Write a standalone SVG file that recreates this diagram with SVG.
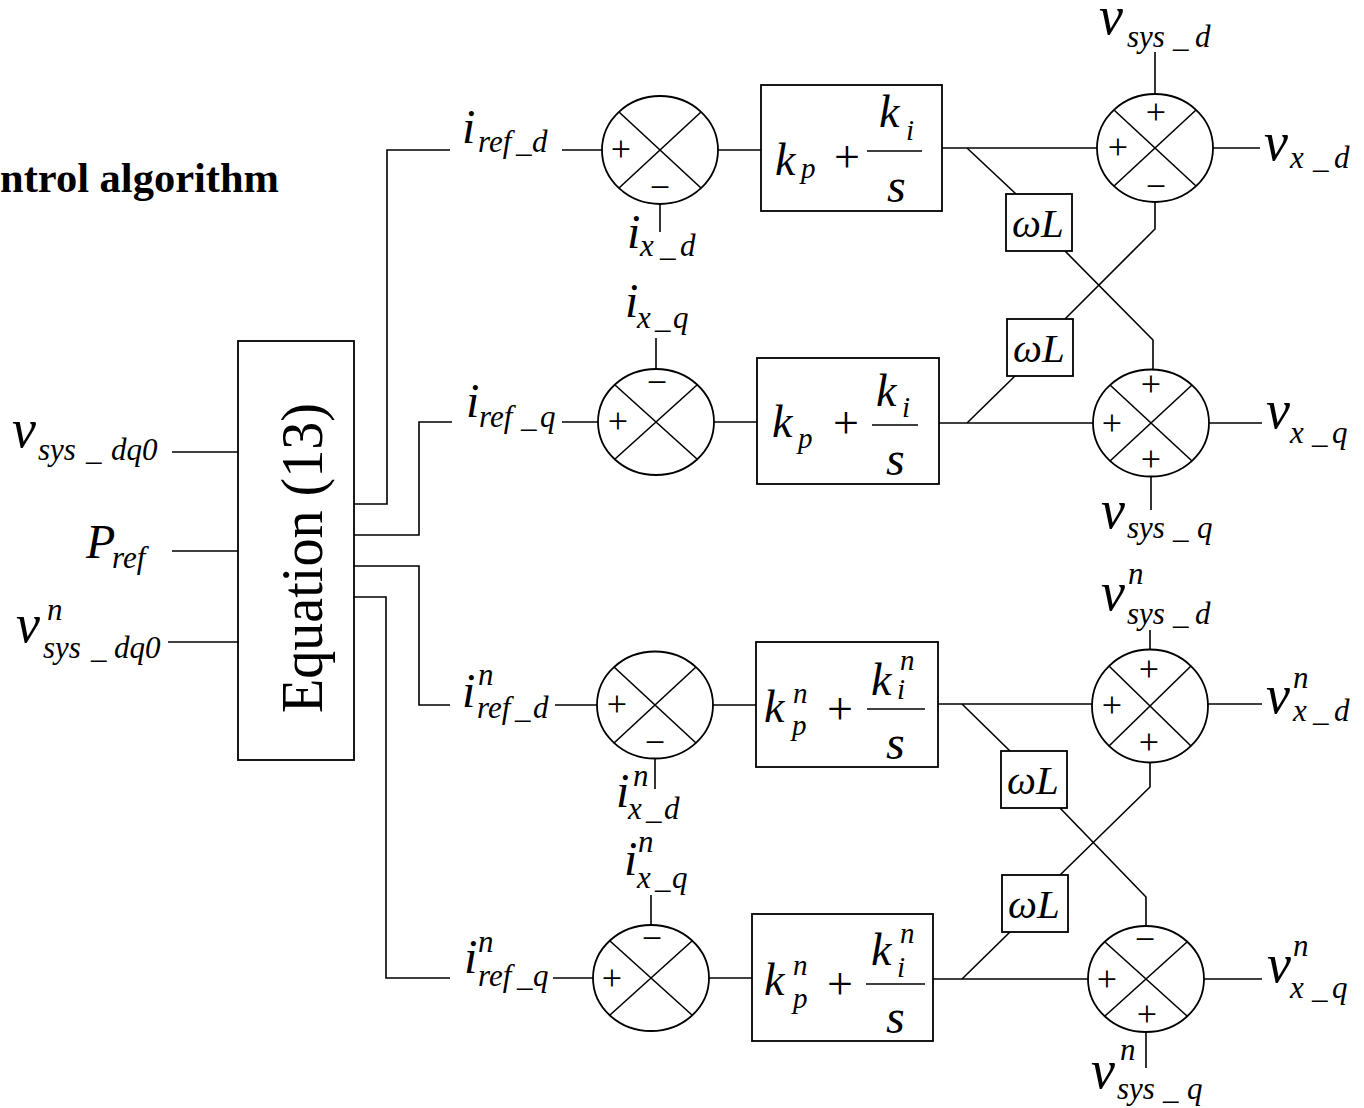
<svg xmlns="http://www.w3.org/2000/svg" width="1364" height="1108" viewBox="0 0 1364 1108">
<style>
.ln{stroke:#000;stroke-width:1.6;fill:none}
.bx{stroke:#000;stroke-width:1.8;fill:#fff}
.el{stroke:#000;stroke-width:1.8;fill:none}
.mi{font-family:"Liberation Serif","Times New Roman",serif;font-style:italic;font-size:31px;fill:#000}
.rm{font-family:"Liberation Serif","Times New Roman",serif;fill:#000}
.sg{font-family:"Liberation Serif","Times New Roman",serif;font-size:36px;text-anchor:middle;fill:#000}
.pl{font-family:"Liberation Serif","Times New Roman",serif;font-size:46px;text-anchor:middle;fill:#000}
.V{font-size:54px}
.I{font-size:48px}
.K{font-size:46px}
.S{font-size:48px}
.W{font-size:41px}
.s{font-size:29px}
</style>
<rect width="1364" height="1108" fill="#fff"/>

<text id="title" class="rm" x="0" y="192" font-size="43" font-weight="bold" textLength="279" lengthAdjust="spacingAndGlyphs">ntrol algorithm</text>

<g id="connectors">
  <line class="ln" x1="172" y1="452" x2="238" y2="452"/>
  <line class="ln" x1="172" y1="551" x2="238" y2="551"/>
  <line class="ln" x1="168" y1="642" x2="238" y2="642"/>
  <polyline class="ln" points="354,504 387,504 387,150 450,150"/>
  <polyline class="ln" points="354,535 419,535 419,422 452,422"/>
  <polyline class="ln" points="354,566 419,566 419,705 450,705"/>
  <polyline class="ln" points="354,597 386,597 386,978 450,978"/>
  <line class="ln" x1="562" y1="150" x2="602" y2="150"/>
  <line class="ln" x1="660" y1="204" x2="660" y2="232"/>
  <line class="ln" x1="718" y1="150" x2="761" y2="150"/>
  <line class="ln" x1="942" y1="148" x2="1097" y2="148"/>
  <line class="ln" x1="1155" y1="52" x2="1155" y2="94"/>
  <line class="ln" x1="1213" y1="148" x2="1260" y2="148"/>
  <line class="ln" x1="967" y1="148" x2="1016" y2="194"/>
  <polyline class="ln" points="1065,251 1153,340 1153,369"/>
  <polyline class="ln" points="1155,202 1155,229 1065,319"/>
  <line class="ln" x1="562" y1="422" x2="598" y2="422"/>
  <line class="ln" x1="656" y1="338" x2="656" y2="369"/>
  <line class="ln" x1="714" y1="422" x2="757" y2="422"/>
  <line class="ln" x1="939" y1="423" x2="1093" y2="423"/>
  <line class="ln" x1="1151" y1="476" x2="1151" y2="510"/>
  <line class="ln" x1="1209" y1="423" x2="1262" y2="423"/>
  <line class="ln" x1="967" y1="423" x2="1015" y2="376"/>
  <line class="ln" x1="555" y1="705" x2="597" y2="705"/>
  <line class="ln" x1="655" y1="759" x2="655" y2="789"/>
  <line class="ln" x1="713" y1="705" x2="756" y2="705"/>
  <line class="ln" x1="938" y1="704" x2="1092" y2="704"/>
  <line class="ln" x1="1150" y1="630" x2="1150" y2="650"/>
  <line class="ln" x1="1208" y1="704" x2="1262" y2="704"/>
  <line class="ln" x1="962" y1="704" x2="1010" y2="751"/>
  <polyline class="ln" points="1060,808 1146,897 1146,926"/>
  <polyline class="ln" points="1150,763 1150,787 1060,875"/>
  <line class="ln" x1="553" y1="978" x2="593" y2="978"/>
  <line class="ln" x1="651" y1="895" x2="651" y2="925"/>
  <line class="ln" x1="709" y1="978" x2="752" y2="978"/>
  <line class="ln" x1="933" y1="979" x2="1088" y2="979"/>
  <line class="ln" x1="1146" y1="1032" x2="1146" y2="1068"/>
  <line class="ln" x1="1204" y1="979" x2="1262" y2="979"/>
  <line class="ln" x1="962" y1="979" x2="1010" y2="932"/>
</g>

<g id="equation">
  <rect class="bx" x="238" y="341" width="116" height="419"/>
  <text class="rm" transform="translate(322,558) rotate(-90)" text-anchor="middle" font-size="60" textLength="310" lengthAdjust="spacingAndGlyphs">Equation (13)</text>
</g>

<text id="lbl-vsys-dq0" class="mi"><tspan class="V" x="12" y="447">v</tspan><tspan x="38" y="460">sys</tspan><tspan x="86">_</tspan><tspan x="111">dq0</tspan></text>
<text id="lbl-pref" class="mi"><tspan class="I" x="86" y="558">P</tspan><tspan x="112" y="568">ref</tspan></text>
<text id="lbl-vnsys-dq0" class="mi"><tspan class="V" x="16" y="642">v</tspan><tspan x="47" y="620">n</tspan><tspan x="43" y="658">sys</tspan><tspan x="91">_</tspan><tspan x="114">dq0</tspan></text>

<!-- Row 1 -->
<text id="lbl-iref-d" class="mi"><tspan class="I" x="462" y="143">i</tspan><tspan x="478" y="152">ref</tspan><tspan x="516">_</tspan><tspan x="532">d</tspan></text>
<g id="sum1">
  <ellipse class="el" cx="660" cy="150" rx="58" ry="54"/>
  <line class="ln" x1="619" y1="112" x2="701" y2="188"/>
  <line class="ln" x1="619" y1="188" x2="701" y2="112"/>
  <text class="sg" x="621" y="161">+</text>
  <text class="sg" x="660" y="199">−</text>
</g>
<text id="lbl-ix-d" class="mi"><tspan class="I" x="627" y="248">i</tspan><tspan x="640" y="256">x</tspan><tspan x="660">_</tspan><tspan x="680">d</tspan></text>
<g id="pi1">
  <rect class="bx" x="761" y="85" width="181" height="126"/>
  <text class="mi"><tspan class="K" x="775" y="175">k</tspan><tspan class="s" x="801" y="178">p</tspan></text>
  <text class="pl" x="847" y="172">+</text>
  <line class="ln" x1="867" y1="151" x2="922" y2="151" stroke-width="2.2"/>
  <text class="mi"><tspan class="K" x="879" y="127">k</tspan><tspan class="s" x="906" y="140">i</tspan></text>
  <text class="mi S" x="887" y="202">s</text>
</g>
<g id="wl1">
  <rect class="bx" x="1006" y="194" width="66" height="57"/>
  <text class="mi W" x="1012" y="237">ωL</text>
</g>
<g id="sum2">
  <ellipse class="el" cx="1155" cy="148" rx="58" ry="54"/>
  <line class="ln" x1="1114" y1="110" x2="1196" y2="186"/>
  <line class="ln" x1="1114" y1="186" x2="1196" y2="110"/>
  <text class="sg" x="1156" y="124">+</text>
  <text class="sg" x="1118" y="159">+</text>
  <text class="sg" x="1156" y="198">−</text>
</g>
<text id="lbl-vsys-d" class="mi"><tspan class="V" x="1099" y="34">v</tspan><tspan x="1127" y="47">sys</tspan><tspan x="1173">_</tspan><tspan x="1195">d</tspan></text>
<text id="lbl-vx-d" class="mi"><tspan class="V" x="1264" y="160">v</tspan><tspan x="1290" y="168">x</tspan><tspan x="1313">_</tspan><tspan x="1334">d</tspan></text>

<!-- Row 2 -->
<text id="lbl-iref-q" class="mi"><tspan class="I" x="466" y="417">i</tspan><tspan x="479" y="427">ref</tspan><tspan x="521">_</tspan><tspan x="540">q</tspan></text>
<text id="lbl-ix-q" class="mi"><tspan class="I" x="625" y="317">i</tspan><tspan x="637" y="328">x</tspan><tspan x="655">_</tspan><tspan x="673">q</tspan></text>
<g id="sum3">
  <ellipse class="el" cx="656" cy="422" rx="58" ry="53"/>
  <line class="ln" x1="615" y1="385" x2="697" y2="459"/>
  <line class="ln" x1="615" y1="459" x2="697" y2="385"/>
  <text class="sg" x="657" y="394">−</text>
  <text class="sg" x="618" y="433">+</text>
</g>
<g id="pi2">
  <rect class="bx" x="757" y="358" width="182" height="126"/>
  <text class="mi"><tspan class="K" x="772" y="437">k</tspan><tspan class="s" x="798" y="448">p</tspan></text>
  <text class="pl" x="846" y="438">+</text>
  <line class="ln" x1="872" y1="425" x2="918" y2="425" stroke-width="2.2"/>
  <text class="mi"><tspan class="K" x="876" y="406">k</tspan><tspan class="s" x="902" y="417">i</tspan></text>
  <text class="mi S" x="886" y="475">s</text>
</g>
<g id="wl2">
  <rect class="bx" x="1007" y="319" width="66" height="57"/>
  <text class="mi W" x="1013" y="362">ωL</text>
</g>
<g id="sum4">
  <ellipse class="el" cx="1151" cy="423" rx="58" ry="53.5"/>
  <line class="ln" x1="1110" y1="385" x2="1192" y2="461"/>
  <line class="ln" x1="1110" y1="461" x2="1192" y2="385"/>
  <text class="sg" x="1151" y="396">+</text>
  <text class="sg" x="1112" y="435">+</text>
  <text class="sg" x="1151" y="471">+</text>
</g>
<text id="lbl-vx-q" class="mi"><tspan class="V" x="1266" y="428">v</tspan><tspan x="1290" y="443">x</tspan><tspan x="1312">_</tspan><tspan x="1332">q</tspan></text>
<text id="lbl-vsys-q" class="mi"><tspan class="V" x="1101" y="528">v</tspan><tspan x="1127" y="538">sys</tspan><tspan x="1173">_</tspan><tspan x="1197">q</tspan></text>

<!-- Row 3 -->
<text id="lbl-inref-d" class="mi"><tspan class="I" x="462" y="707">i</tspan><tspan x="478" y="685">n</tspan><tspan x="477" y="718">ref</tspan><tspan x="515">_</tspan><tspan x="533">d</tspan></text>
<g id="sum5">
  <ellipse class="el" cx="655" cy="705" rx="58" ry="53.5"/>
  <line class="ln" x1="614" y1="667" x2="696" y2="743"/>
  <line class="ln" x1="614" y1="743" x2="696" y2="667"/>
  <text class="sg" x="617" y="716">+</text>
  <text class="sg" x="655" y="754">−</text>
</g>
<text id="lbl-inx-d" class="mi"><tspan class="I" x="616" y="807">i</tspan><tspan x="633" y="786">n</tspan><tspan x="628" y="819">x</tspan><tspan x="646">_</tspan><tspan x="664">d</tspan></text>
<g id="pi3">
  <rect class="bx" x="756" y="642" width="182" height="125"/>
  <text class="mi"><tspan class="K" x="764" y="722">k</tspan><tspan class="s" x="793" y="703">n</tspan><tspan class="s" x="792" y="735">p</tspan></text>
  <text class="pl" x="840" y="724">+</text>
  <line class="ln" x1="867" y1="709" x2="925" y2="709" stroke-width="2.2"/>
  <text class="mi"><tspan class="K" x="871" y="695">k</tspan><tspan class="s" x="900" y="670">n</tspan><tspan class="s" x="897" y="699">i</tspan></text>
  <text class="mi S" x="886" y="759">s</text>
</g>
<g id="wl3">
  <rect class="bx" x="1001" y="751" width="66" height="57"/>
  <text class="mi W" x="1007" y="794">ωL</text>
</g>
<g id="sum6">
  <ellipse class="el" cx="1150" cy="706" rx="58" ry="56.5"/>
  <line class="ln" x1="1109" y1="666" x2="1191" y2="746"/>
  <line class="ln" x1="1109" y1="746" x2="1191" y2="666"/>
  <text class="sg" x="1149" y="681">+</text>
  <text class="sg" x="1112" y="717">+</text>
  <text class="sg" x="1149" y="754">+</text>
</g>
<text id="lbl-vnsys-d" class="mi"><tspan class="V" x="1101" y="610">v</tspan><tspan x="1128" y="584">n</tspan><tspan x="1127" y="624">sys</tspan><tspan x="1173">_</tspan><tspan x="1195">d</tspan></text>
<text id="lbl-vnx-d" class="mi"><tspan class="V" x="1266" y="713">v</tspan><tspan x="1293" y="688">n</tspan><tspan x="1293" y="721">x</tspan><tspan x="1313">_</tspan><tspan x="1334">d</tspan></text>

<!-- Row 4 -->
<text id="lbl-inref-q" class="mi"><tspan class="I" x="464" y="973">i</tspan><tspan x="478" y="952">n</tspan><tspan x="478" y="986">ref</tspan><tspan x="517">_</tspan><tspan x="533">q</tspan></text>
<text id="lbl-inx-q" class="mi"><tspan class="I" x="624" y="875">i</tspan><tspan x="638" y="852">n</tspan><tspan x="637" y="888">x</tspan><tspan x="655">_</tspan><tspan x="672">q</tspan></text>
<g id="sum7">
  <ellipse class="el" cx="651" cy="978" rx="58" ry="53"/>
  <line class="ln" x1="610" y1="941" x2="692" y2="1015"/>
  <line class="ln" x1="610" y1="1015" x2="692" y2="941"/>
  <text class="sg" x="652" y="950">−</text>
  <text class="sg" x="612" y="990">+</text>
</g>
<g id="pi4">
  <rect class="bx" x="752" y="914" width="181" height="127"/>
  <text class="mi"><tspan class="K" x="764" y="995">k</tspan><tspan class="s" x="793" y="975">n</tspan><tspan class="s" x="793" y="1008">p</tspan></text>
  <text class="pl" x="840" y="999">+</text>
  <line class="ln" x1="866" y1="984" x2="925" y2="984" stroke-width="2.2"/>
  <text class="mi"><tspan class="K" x="871" y="965">k</tspan><tspan class="s" x="900" y="943">n</tspan><tspan class="s" x="897" y="977">i</tspan></text>
  <text class="mi S" x="886" y="1033">s</text>
</g>
<g id="wl4">
  <rect class="bx" x="1002" y="875" width="66" height="57"/>
  <text class="mi W" x="1008" y="918">ωL</text>
</g>
<g id="sum8">
  <ellipse class="el" cx="1146" cy="979" rx="58" ry="53"/>
  <line class="ln" x1="1105" y1="942" x2="1187" y2="1016"/>
  <line class="ln" x1="1105" y1="1016" x2="1187" y2="942"/>
  <text class="sg" x="1145" y="951">−</text>
  <text class="sg" x="1107" y="991">+</text>
  <text class="sg" x="1147" y="1026">+</text>
</g>
<text id="lbl-vnx-q" class="mi"><tspan class="V" x="1267" y="982">v</tspan><tspan x="1293" y="956">n</tspan><tspan x="1290" y="998">x</tspan><tspan x="1312">_</tspan><tspan x="1332">q</tspan></text>
<text id="lbl-vnsys-q" class="mi"><tspan class="V" x="1091" y="1088">v</tspan><tspan x="1120" y="1060">n</tspan><tspan x="1117" y="1099">sys</tspan><tspan x="1163">_</tspan><tspan x="1187">q</tspan></text>
</svg>
